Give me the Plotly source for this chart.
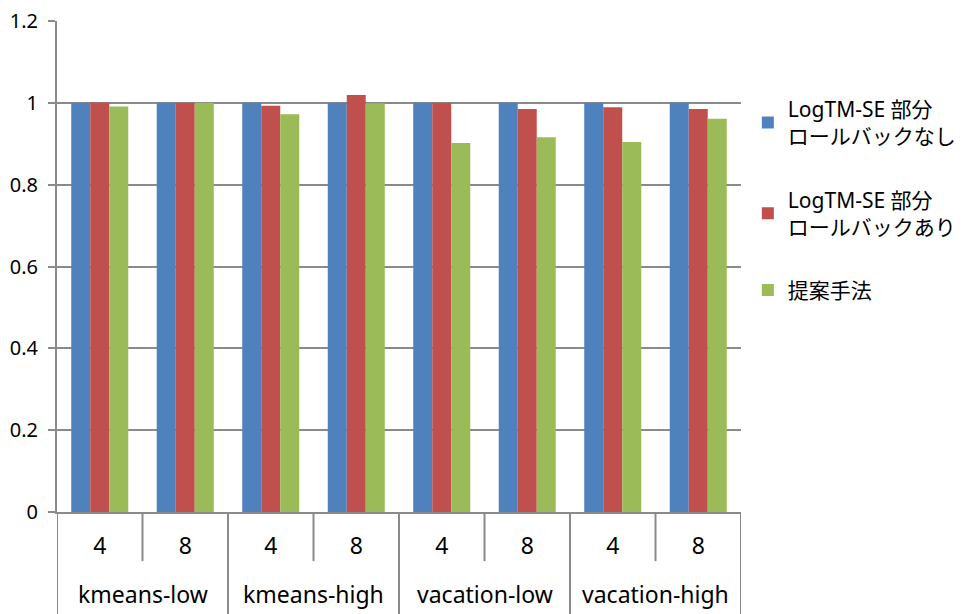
import plotly.graph_objects as go

# Benchmarks (outer groups) and thread counts (inner categories)
benchmarks = ["kmeans-low", "kmeans-high", "vacation-low", "vacation-high"]
threads = ["4", "8"]

series_names = [
    "LogTM-SE 部分<br>ロールバックなし",
    "LogTM-SE 部分<br>ロールバックあり",
    "提案手法",
]
no_rollback = [1.0, 1.0, 1.0, 1.0, 1.0, 1.0, 1.0, 1.0]
with_rollback = [1.001, 1.0, 0.993, 1.019, 1.0, 0.985, 0.989, 0.985]
proposed = [0.991, 1.0, 0.972, 0.999, 0.902, 0.916, 0.904, 0.961]
colors = ["#4F81BD", "#C0504D", "#9BBB59"]

y_ticks = [0, 0.2, 0.4, 0.6, 0.8, 1.0, 1.2]
y_ticktext = ["0", "0.2", "0.4", "0.6", "0.8", "1", "1.2"]

FONT = "Noto Sans, Noto Sans CJK JP, sans-serif"
GRID = "#8a8a8a"

n_cat = len(benchmarks) * len(threads)
xpos = list(range(n_cat))
inner_labels = [t for _ in benchmarks for t in threads]

fig = go.Figure()
for i, (name, vals) in enumerate(zip(series_names, [no_rollback, with_rollback, proposed])):
    fig.add_trace(go.Bar(
        x=xpos, y=vals, name=name, marker_color=colors[i],
        marker_line_width=0, legendgroup=f"g{i}",
    ))

# Outer group labels under the thread-count row
annotations = []
for gi, b in enumerate(benchmarks):
    center = gi * len(threads) + (len(threads) - 1) / 2
    annotations.append(dict(
        x=center, y=-0.168, xref="x", yref="paper", text=b,
        showarrow=False, font=dict(family=FONT, size=23, color="#000"),
        yanchor="middle",
    ))

# Divider lines below the axis: short between thread counts, long between benchmarks
shapes = []
for k in range(n_cat + 1):
    xb = k - 0.5
    outer = (k % len(threads) == 0)
    shapes.append(dict(
        type="line", xref="x", yref="paper", x0=xb, x1=xb,
        y0=0, y1=(-0.21 if outer else -0.1),
        line=dict(color=GRID, width=2),
    ))

fig.update_layout(
    width=962, height=614,
    margin=dict(l=57, r=221, t=21, b=102, autoexpand=False),
    paper_bgcolor="white", plot_bgcolor="white",
    barmode="group", bargap=0.333, bargroupgap=0,
    font=dict(family=FONT, color="#000"),
    showlegend=True,
    legend=dict(
        x=1.01, y=0.862, xanchor="left", yanchor="top",
        font=dict(family=FONT, size=21, color="#000"),
        tracegroupgap=33, itemwidth=30,
        bgcolor="rgba(0,0,0,0)",
    ),
    annotations=annotations,
    shapes=shapes,
)
fig.update_xaxes(
    range=[-0.5, n_cat - 0.5], tickvals=xpos, ticktext=inner_labels,
    tickfont=dict(family=FONT, size=23, color="#000"),
    ticks="", showgrid=False, zeroline=False, showline=True,
    linecolor=GRID, linewidth=2, ticklabelstandoff=12,
)
fig.update_yaxes(
    range=[0, 1.2], tickvals=y_ticks, ticktext=y_ticktext,
    tickfont=dict(family=FONT, size=20, color="#000"),
    showgrid=True, gridcolor=GRID, gridwidth=2,
    ticks="outside", ticklen=7, tickcolor=GRID, tickwidth=2,
    showline=True, linecolor=GRID, linewidth=2, zeroline=False,
    ticklabelstandoff=6,
)

fig.write_html("out.html")
